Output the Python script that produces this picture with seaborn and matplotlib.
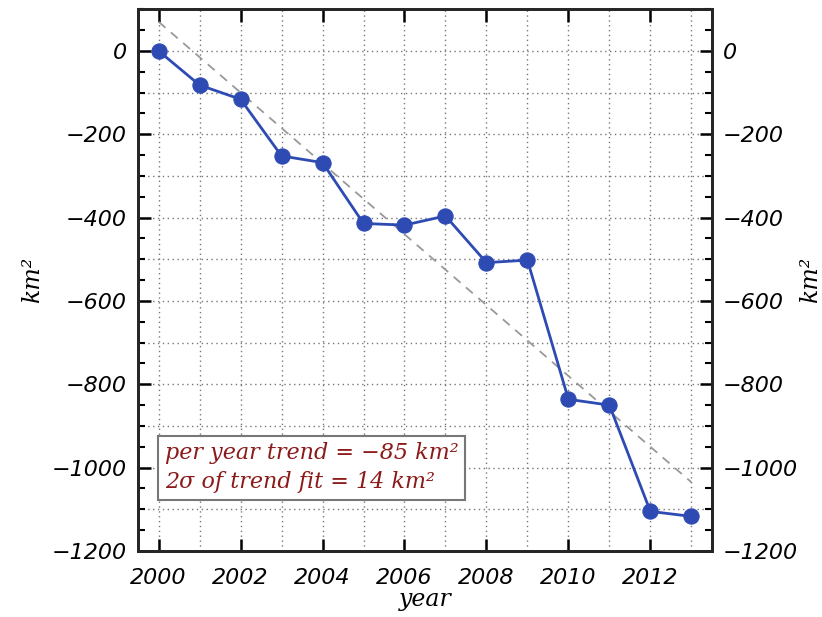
import numpy as np
import pandas as pd
import seaborn as sns
import matplotlib
matplotlib.use("Agg")
import matplotlib.pyplot as plt
from matplotlib.ticker import MultipleLocator

# data
years = [2000, 2001, 2002, 2003, 2004, 2005, 2006, 2007, 2008, 2009, 2010, 2011, 2012, 2013]
area_change = [0, -82, -116, -252, -268, -414, -418, -396, -508, -502, -836, -850, -1105, -1117]
trend_years = [2000, 2013]
trend_values = [70, -1035]
box_lines = ["per year trend = \u221285 km\u00b2", "2\u03c3 of trend fit = 14 km\u00b2"]
y_ticks = list(range(-1200, 1, 200))
x_ticks = list(range(2000, 2013, 2))

df = pd.DataFrame({"year": years, "km2": area_change})

sns.set_style("ticks")
plt.rcParams["font.family"] = ["DejaVu Sans"]

fig = plt.figure(figsize=(8.22, 6.17), dpi=100)
ax = fig.add_axes([0.168, 0.107, 0.698, 0.878])

# dotted grid, every year and every 100 km2
for yr in years:
    ax.axvline(yr, color="#777777", lw=1.0, ls=(0, (1, 2.5)), zorder=0)
for v in np.arange(-1100, 100, 100):
    ax.axhline(v, color="#777777", lw=1.0, ls=(0, (1, 2.5)), zorder=0)

ax.plot(trend_years, trend_values, color="#999999", lw=1.3, ls=(0, (5, 4)), zorder=1)
sns.lineplot(data=df, x="year", y="km2", ax=ax, color="#2D4BB3", lw=2,
             marker="o", markersize=11, markeredgecolor="#2D4BB3", zorder=3)

ax.set_xlim(1999.5, 2013.5)
ax.set_ylim(-1200, 100)
ax.yaxis.set_minor_locator(MultipleLocator(50))

for s in ax.spines.values():
    s.set_linewidth(2)
    s.set_visible(True)

tick_font = dict(fontsize=16, fontstyle="italic", color="black")
fmt = lambda v: f"{v}".replace("-", "\u2212")
ax.tick_params(axis="both", which="major", direction="in", length=9, width=1.8,
               top=True, right=True, colors="black")
ax.tick_params(axis="y", which="major", pad=8)
ax.tick_params(axis="x", which="major", pad=12)
ax.tick_params(axis="y", which="minor", direction="in", length=5, width=1.5, right=True, colors="black")
ax.set_yticks(y_ticks)
ax.set_yticklabels([fmt(v) for v in y_ticks], **tick_font)
ax.set_xticks(x_ticks)
ax.set_xticklabels([str(y) for y in x_ticks], **tick_font)

ax2 = ax.twinx()
ax2.set_ylim(ax.get_ylim())
ax2.set_yticks(y_ticks)
ax2.set_yticklabels([fmt(v) for v in y_ticks], **tick_font)
ax2.yaxis.set_minor_locator(MultipleLocator(50))
ax2.tick_params(axis="y", which="major", direction="in", length=9, width=1.8, pad=8, colors="black")
ax2.tick_params(axis="y", which="minor", direction="in", length=5, width=1.5, colors="black")
for s in ax2.spines.values():
    s.set_linewidth(2)

label_font = dict(fontsize=17, fontstyle="italic", family="DejaVu Serif", color="black")
ax.set_xlabel("year", labelpad=0, **label_font)
ax.set_ylabel("km\u00b2", labelpad=6, **label_font)
ax2.set_ylabel("km\u00b2", labelpad=1, rotation=90, **label_font)

ax.text(2000.15, -1000, box_lines[0] + "\n" + box_lines[1], color="#8B1A1A",
        fontsize=16, fontstyle="italic", family="DejaVu Serif",
        va="center", ha="left", linespacing=1.4, zorder=4,
        bbox=dict(boxstyle="square,pad=0.3", facecolor="white", edgecolor="#777777", lw=1.5))

fig.savefig("out.png", dpi=100)
